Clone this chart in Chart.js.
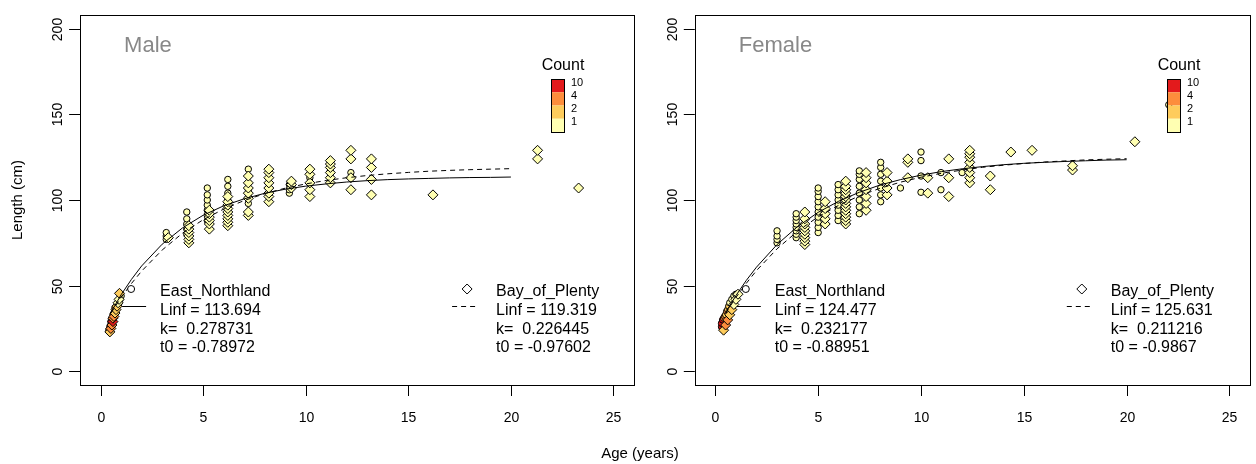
<!DOCTYPE html>
<html>
<head>
<meta charset="utf-8">
<script src="https://cdn.jsdelivr.net/npm/chart.js@4.4.0/dist/chart.umd.min.js"></script>
<style>
  body { margin: 0; background: #fff; }
  #wrap { position: relative; width: 1256px; height: 464px; overflow: hidden; }
  #male { position: absolute; left: 0; top: 0; }
  #female { position: absolute; left: 640px; top: 0; }
  #xlab { position: absolute; left: 540px; width: 200px; top: 444px; line-height: 16px;
          text-align: center; font: 15px "Liberation Sans", Arial, sans-serif; color: #000; }
</style>
</head>
<body>
<div id="wrap">
  <canvas id="male" width="640" height="464"></canvas>
  <canvas id="female" width="616" height="464"></canvas>
  <div id="xlab">Age (years)</div>
</div>
<script>
/* axes */
const xTicks = [0, 5, 10, 15, 20, 25];
const yTicks = [0, 50, 100, 150, 200];
const countLabels = ['10', '4', '2', '1'];
const countColors = ['#E31A1C', '#FD8D3C', '#FECC5C', '#FFFFB2'];

/* fitted growth curves */
const curveAges = [0.5, 1, 1.5, 2, 3, 4, 5, 6, 7, 8, 9, 10, 11, 12, 13, 14, 15, 16, 17, 18, 19, 20];
const maleENCurve = [34.3, 44.7, 53.6, 61.5, 74.2, 83.8, 91.1, 96.6, 100.7, 103.9, 106.3, 108.1, 109.4, 110.5, 111.3, 111.9, 112.3, 112.6, 112.9, 113.1, 113.2, 113.4];
const maleBPCurve = [33.9, 43.0, 51.2, 58.5, 70.8, 80.7, 88.5, 94.7, 99.7, 103.7, 106.9, 109.4, 111.4, 113.0, 114.3, 115.3, 116.1, 116.8, 117.3, 117.7, 118.0, 118.3];
const femaleENCurve = [34.3, 44.2, 53.0, 60.8, 74.0, 84.5, 92.8, 99.3, 104.5, 108.7, 111.9, 114.5, 116.6, 118.2, 119.5, 120.6, 121.4, 122.0, 122.5, 122.9, 123.3, 123.5];
const femaleBPCurve = [33.9, 43.1, 51.3, 58.8, 71.5, 81.8, 90.2, 96.9, 102.4, 106.8, 110.4, 113.3, 115.6, 117.5, 119.1, 120.3, 121.3, 122.2, 122.8, 123.4, 123.8, 124.1];

/* Male, East_Northland (circles) */
const maleENYoungAge = [0.4, 0.45, 0.5, 0.5, 0.55, 0.6, 0.6, 0.65, 0.7, 0.7, 0.75, 0.8, 0.85, 0.9, 0.95, 1.0];
const maleENYoungLen = [24, 26, 27, 29, 30, 31, 33, 34, 35, 37, 36, 38, 39, 40, 42, 44];
const maleENYoungCount = [2, 4, 4, 10, 4, 10, 4, 4, 2, 4, 4, 2, 2, 2, 1, 1];
const maleENAges = [3.2, 4.2, 5.2, 6.2, 7.2, 8.2, 9.2, 10.2, 11.2, 12.2];
const maleENLens = [[77, 79, 81], [80, 83, 86, 89, 93], [88, 91, 94, 97, 100, 103, 107], [92, 96, 100, 104, 108, 112],
  [98, 102, 106, 110, 114, 118], [104, 107, 110], [104, 106, 109], [110, 113], [113, 117, 120], [116]];

/* Male, Bay_of_Plenty (diamonds) */
const maleBPYoungAge = [0.45, 0.5, 0.55, 0.6, 0.6, 0.65, 0.7, 0.75, 0.8, 0.85, 0.9, 0.92];
const maleBPYoungLen = [23, 25, 27, 29, 31, 32, 34, 36, 38, 40, 42, 45.5];
const maleBPYoungCount = [2, 4, 4, 10, 4, 4, 2, 2, 2, 1, 1, 2];
const maleBPAges = [3.3, 4.3, 5.3, 6.2, 7.2, 8.2, 9.3, 10.2, 11.2, 12.2, 13.2, 16.2, 21.3, 23.3];
const maleBPLens = [[78], [75, 77, 79, 81, 83, 85], [83, 86, 88, 90, 92, 94], [85, 87, 89, 91, 93, 95, 97, 99, 102],
  [91, 93, 101, 104, 107, 110, 114], [99, 102, 104, 107, 110, 113, 116, 118], [107, 109, 111], [102, 106, 110, 115, 118],
  [110, 113, 116, 119, 121, 123], [106, 113, 124, 129], [103, 112, 119, 124], [103], [124, 129], [107]];

/* Female, East_Northland (circles) */
const femaleENYoungAge = [0.3, 0.3, 0.35, 0.4, 0.45, 0.5, 0.55, 0.6, 0.65, 0.7, 0.8, 0.9, 1.0];
const femaleENYoungLen = [26, 28, 30, 31, 32, 33, 35, 36, 38, 40, 42, 44, 45];
const femaleENYoungCount = [10, 10, 10, 4, 4, 2, 4, 2, 2, 1, 1, 1, 1];
const femaleENAges = [3.0, 3.93, 5.0, 5.97, 7.0, 8.04, 9.0, 10.0, 10.97, 12.0, 22.05];
const femaleENLens = [[75, 77, 79, 82], [78, 80, 82, 84, 86, 88, 90, 92], [81, 84, 87, 90, 93, 96, 99, 102, 105, 107],
  [88, 91, 94, 97, 100, 103, 106, 109], [92, 96, 100, 104, 108, 112, 115, 117], [99, 103, 107, 111, 115, 119, 122],
  [107], [104.5, 114, 123, 128], [106, 116], [116], [155.6]];

/* Female, Bay_of_Plenty (diamonds) */
const femaleBPYoungAge = [0.4, 0.5, 0.6, 0.7, 0.8, 0.9, 1.0, 1.1];
const femaleBPYoungLen = [24, 27, 30, 33, 36, 39, 42, 45];
const femaleBPYoungCount = [2, 4, 4, 2, 2, 1, 1, 1];
const femaleBPAges = [4.35, 5.34, 6.34, 7.33, 8.35, 9.36, 10.33, 11.35, 12.37, 13.37, 14.37, 15.4, 17.37, 20.4];
const femaleBPLens = [[74, 76, 78, 80, 82, 84, 86, 89, 93], [86, 89, 92, 95, 99],
  [86, 88, 90, 92, 94, 96, 98, 100, 102, 104, 106, 108, 111], [94, 98, 102, 106, 110, 113, 116],
  [103, 107, 111, 116], [113, 122, 124], [104, 113], [102, 113, 124], [110, 113, 116, 119, 122, 125, 127, 129],
  [106, 114], [128], [129], [117.5, 120], [134]];

/* legend texts */
const maleENLegend = ['East_Northland', 'Linf = 113.694', 'k=  0.278731', 't0 = -0.78972'];
const maleBPLegend = ['Bay_of_Plenty', 'Linf = 119.319', 'k=  0.226445', 't0 = -0.97602'];
const femaleENLegend = ['East_Northland', 'Linf = 124.477', 'k=  0.232177', 't0 = -0.88951'];
const femaleBPLegend = ['Bay_of_Plenty', 'Linf = 125.631', 'k=  0.211216', 't0 = -0.9867'];

const FONT = '"Liberation Sans", Arial, sans-serif';

function countColor(c) {
  if (c >= 10) return countColors[0];
  if (c >= 4) return countColors[1];
  if (c >= 2) return countColors[2];
  return countColors[3];
}

function buildPoints(yAge, yLen, yCount, ages, lens) {
  const pts = [], cols = [];
  yAge.forEach((a, i) => { pts.push({ x: a, y: yLen[i] }); cols.push(countColor(yCount[i])); });
  ages.forEach((a, i) => lens[i].forEach(l => { pts.push({ x: a, y: l }); cols.push(countColor(1)); }));
  return { pts, cols };
}

function curve(vals) {
  return curveAges.map((a, i) => ({ x: a, y: vals[i] }));
}

const decor = {
  id: 'decor',
  afterDraw(chart, args, o) {
    const ctx = chart.ctx, a = chart.chartArea, xs = chart.scales.x, ys = chart.scales.y;
    ctx.save();
    ctx.strokeStyle = '#000';
    ctx.lineWidth = 1;
    ctx.strokeRect(Math.round(a.left) + 0.5, Math.round(a.top) + 0.5, Math.round(a.width), Math.round(a.height));

    // axes
    ctx.fillStyle = '#000';
    ctx.font = '14px ' + FONT;
    ctx.textAlign = 'center';
    ctx.textBaseline = 'middle';
    xTicks.forEach(v => {
      const px = Math.round(xs.getPixelForValue(v)) + 0.5;
      ctx.beginPath(); ctx.moveTo(px, a.bottom); ctx.lineTo(px, a.bottom + 11); ctx.stroke();
      ctx.fillText(String(v), px, a.bottom + 33);
    });
    yTicks.forEach(v => {
      const py = Math.round(ys.getPixelForValue(v)) + 0.5;
      ctx.beginPath(); ctx.moveTo(a.left - 11, py); ctx.lineTo(a.left, py); ctx.stroke();
      ctx.save(); ctx.translate(a.left - 22, py); ctx.rotate(-Math.PI / 2);
      ctx.fillText(String(v), 0, 0); ctx.restore();
    });
    if (o.yLabel) {
      ctx.save(); ctx.translate(18, (a.top + a.bottom) / 2); ctx.rotate(-Math.PI / 2);
      ctx.font = '15px ' + FONT; ctx.fillText(o.yLabel, 0, 0); ctx.restore();
    }

    // panel title
    ctx.fillStyle = '#888';
    ctx.font = '22px ' + FONT;
    ctx.textAlign = 'left';
    ctx.fillText(o.title, a.left + 44, 46);

    // count key
    const bx = a.right - 83, bw = 13, bt = 79, sh = 13.25;
    countColors.forEach((c, i) => {
      ctx.fillStyle = c;
      ctx.fillRect(bx, bt + i * sh, bw, sh);
    });
    ctx.strokeStyle = '#000';
    ctx.strokeRect(bx + 0.5, bt + 0.5, bw, sh * 4);
    ctx.fillStyle = '#000';
    ctx.font = '11px ' + FONT;
    countLabels.forEach((t, i) => ctx.fillText(t, bx + 20, bt + i * sh + 3.5));
    ctx.font = '16px ' + FONT;
    ctx.textAlign = 'center';
    ctx.fillText('Count', bx + 12, 66);

    // fit legends
    const rows = [291.7, 310.5, 329.5, 347.5];
    ctx.textAlign = 'left';
    ctx.font = '16px ' + FONT;
    o.enLegend.forEach((t, i) => ctx.fillText(t, a.left + 80, rows[i]));
    o.bpLegend.forEach((t, i) => ctx.fillText(t, a.left + 416, rows[i]));

    ctx.lineWidth = 1;
    ctx.beginPath(); ctx.moveTo(a.left + 42, 306.5); ctx.lineTo(a.left + 66, 306.5); ctx.stroke();
    ctx.setLineDash([5, 4]);
    ctx.beginPath(); ctx.moveTo(a.left + 372, 306.5); ctx.lineTo(a.left + 399, 306.5); ctx.stroke();
    ctx.setLineDash([]);

    ctx.fillStyle = '#fff';
    ctx.beginPath(); ctx.arc(a.left + 51, 289, 3.5, 0, Math.PI * 2); ctx.fill(); ctx.stroke();
    const dx = a.left + 387, dy = 289, r = 5;
    ctx.beginPath(); ctx.moveTo(dx - r, dy); ctx.lineTo(dx, dy - r); ctx.lineTo(dx + r, dy); ctx.lineTo(dx, dy + r);
    ctx.closePath(); ctx.fill(); ctx.stroke();
    ctx.restore();
  }
};

function makePanel(id, padLeft, padRight, title, yLabel, enPts, bpPts, enCurve, bpCurve, enLegend, bpLegend) {
  return new Chart(document.getElementById(id), {
    type: 'scatter',
    data: {
      datasets: [
        { label: 'East_Northland fit', data: curve(enCurve), showLine: true, borderColor: '#000', borderWidth: 1,
          pointRadius: 0, tension: 0, order: 0 },
        { label: 'Bay_of_Plenty fit', data: curve(bpCurve), showLine: true, borderColor: '#000', borderWidth: 1,
          borderDash: [5, 4], pointRadius: 0, tension: 0, order: 0 },
        { label: 'Bay_of_Plenty', data: bpPts.pts, pointStyle: 'rectRot', pointRadius: 5,
          backgroundColor: bpPts.cols, borderColor: '#000', borderWidth: 1, order: 1 },
        { label: 'East_Northland', data: enPts.pts, pointStyle: 'circle', pointRadius: 3.2,
          backgroundColor: enPts.cols, borderColor: '#000', borderWidth: 1, order: 2 }
      ]
    },
    options: {
      responsive: false,
      animation: false,
      layout: { padding: { left: padLeft, right: padRight, top: 15, bottom: 79 } },
      scales: {
        x: { type: 'linear', min: -1, max: 26, display: false },
        y: { type: 'linear', min: -8, max: 208, display: false }
      },
      plugins: {
        legend: { display: false },
        tooltip: { enabled: false },
        decor: { title: title, yLabel: yLabel, enLegend: enLegend, bpLegend: bpLegend }
      }
    },
    plugins: [decor]
  });
}

makePanel('male', 80.1, 1.4, 'Male', 'Length (cm)',
  buildPoints(maleENYoungAge, maleENYoungLen, maleENYoungCount, maleENAges, maleENLens),
  buildPoints(maleBPYoungAge, maleBPYoungLen, maleBPYoungCount, maleBPAges, maleBPLens),
  maleENCurve, maleBPCurve, maleENLegend, maleBPLegend);

makePanel('female', 54.8, 3.3, 'Female', null,
  buildPoints(femaleENYoungAge, femaleENYoungLen, femaleENYoungCount, femaleENAges, femaleENLens),
  buildPoints(femaleBPYoungAge, femaleBPYoungLen, femaleBPYoungCount, femaleBPAges, femaleBPLens),
  femaleENCurve, femaleBPCurve, femaleENLegend, femaleBPLegend);
</script>
</body>
</html>
